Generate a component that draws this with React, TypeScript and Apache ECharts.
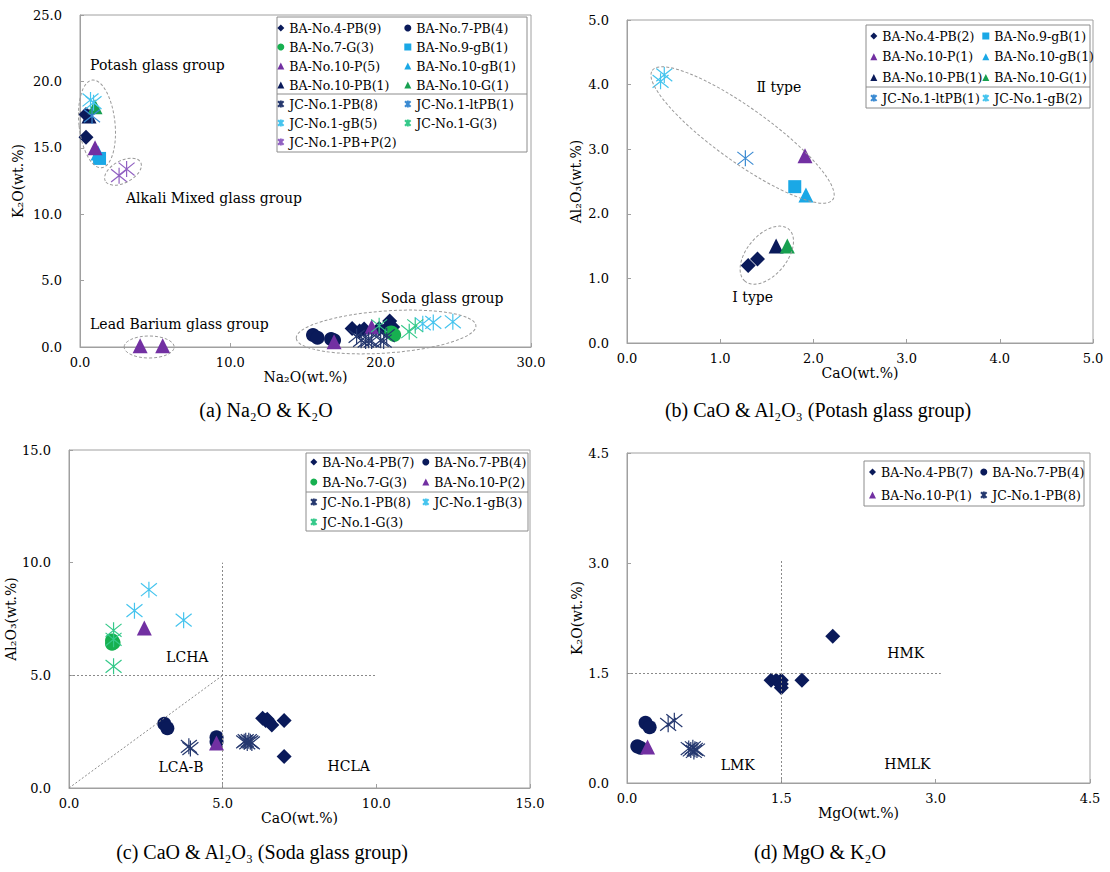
import React, { useEffect, useRef } from "react";
import * as echarts from "echarts";

// ---------- axis ticks ----------
const A_X_TICKS = [0, 10, 20, 30];
const A_Y_TICKS = [0, 5, 10, 15, 20, 25];
const B_X_TICKS = [0, 1, 2, 3, 4, 5];
const B_Y_TICKS = [0, 1, 2, 3, 4, 5];
const C_X_TICKS = [0, 5, 10, 15];
const C_Y_TICKS = [0, 5, 10, 15];
const D_X_TICKS = [0, 1.5, 3, 4.5];
const D_Y_TICKS = [0, 1.5, 3, 4.5];

// ---------- (a) Na2O & K2O ----------
const a_BA4PB = [[0.4, 17.5], [0.4, 15.8], [18.1, 1.4], [18.6, 1.2], [18.9, 1.35], [19.9, 1.4], [20.3, 1.3], [20.6, 1.95], [20.8, 1.5]];
const a_BA7PB = [[15.5, 0.9], [15.8, 0.7], [16.7, 0.6], [16.9, 0.5]];
const a_BA7G = [[20.7, 1.1], [20.8, 1.0], [20.9, 0.9]];
const a_BA9gB = [[1.3, 14.2]];
const a_BA10P = [[1.0, 15.0], [4.0, 0.1], [5.5, 0.1], [16.9, 0.4], [19.4, 1.5]];
const a_BA10gB = [[1.2, 14.6]];
const a_BA10PB = [[0.6, 17.4]];
const a_BA10G = [[1.0, 18.1]];
const a_JC1PB = [[18.4, 0.8], [18.7, 0.5], [19.0, 0.45], [19.2, 0.5], [19.4, 0.45], [20.0, 0.5], [20.2, 0.45], [20.4, 0.85]];
const a_JC1ltPB = [[0.8, 17.4]];
const a_JC1gB = [[0.7, 18.6], [0.9, 18.4], [22.8, 1.75], [23.5, 1.85], [24.8, 1.9]];
const a_JC1G = [[19.9, 1.6], [21.9, 1.15], [22.3, 1.6]];
const a_JC1PBP = [[2.6, 12.9], [3.1, 13.4]];

// ---------- (b) CaO & Al2O3 (Potash) ----------
const b_BA4PB = [[1.3, 1.2], [1.4, 1.3]];
const b_BA9gB = [[1.8, 2.42]];
const b_BA10P = [[1.91, 2.9]];
const b_BA10gB = [[1.92, 2.29]];
const b_BA10PB = [[1.6, 1.5]];
const b_BA10G = [[1.72, 1.5]];
const b_JC1ltPB = [[1.27, 2.86]];
const b_JC1gB = [[0.36, 4.05], [0.4, 4.15]];

// ---------- (c) CaO & Al2O3 (Soda) ----------
const c_BA4PB = [[6.3, 3.1], [6.4, 3.0], [6.45, 3.05], [6.5, 2.95], [6.6, 2.8], [7.0, 3.0], [7.0, 1.4]];
const c_BA7PB = [[3.1, 2.85], [3.2, 2.65], [4.8, 2.25], [4.8, 2.05]];
const c_BA7G = [[1.4, 6.55], [1.45, 6.45], [1.4, 6.4]];
const c_BA10P = [[2.45, 7.1], [4.8, 2.0]];
const c_JC1PB = [[3.9, 1.85], [3.95, 1.75], [5.7, 2.05], [5.75, 2.1], [5.8, 2.0], [5.85, 2.1], [5.9, 2.05], [5.95, 2.0]];
const c_JC1gB = [[2.13, 7.87], [2.6, 8.8], [3.73, 7.45]];
const c_JC1G = [[1.45, 7.0], [1.45, 6.6], [1.45, 5.4]];

// ---------- (d) MgO & K2O ----------
const d_BA4PB = [[1.4, 1.4], [1.45, 1.4], [1.5, 1.4], [1.5, 1.35], [1.5, 1.3], [1.7, 1.4], [2.0, 2.0]];
const d_BA7PB = [[0.18, 0.82], [0.22, 0.76], [0.1, 0.5], [0.13, 0.48]];
const d_BA10P = [[0.2, 0.49]];
const d_JC1PB = [[0.4, 0.8], [0.46, 0.85], [0.6, 0.47], [0.62, 0.45], [0.64, 0.48], [0.65, 0.43], [0.66, 0.46], [0.68, 0.45]];

// ---------- guide lines ----------
const C_GUIDES = [[[0, 5], [10, 5]], [[5, 0], [5, 10]], [[0, 0], [5, 5]]];
const D_GUIDES = [[[0, 1.5], [3.05, 1.5]], [[1.5, 0], [1.5, 3.05]]];

// ---------- annotations (data coords) ----------
const NOTES = [
  { g: 0, text: "Potash glass group", at: [0.67, 21.2] },
  { g: 0, text: "Alkali Mixed glass group", at: [3.06, 11.2] },
  { g: 0, text: "Lead Barium glass group", at: [0.67, 1.73] },
  { g: 0, text: "Soda glass group", at: [20.03, 3.69] },
  { g: 1, text: "Ⅱ type", at: [1.39, 3.97] },
  { g: 1, text: "Ⅰ type", at: [1.13, 0.71] },
  { g: 2, text: "LCHA", at: [3.16, 5.82] },
  { g: 2, text: "LCA-B", at: [2.91, 0.92] },
  { g: 2, text: "HCLA", at: [8.41, 0.99] },
  { g: 3, text: "HMK", at: [2.53, 1.77] },
  { g: 3, text: "LMK", at: [0.91, 0.25] },
  { g: 3, text: "HMLK", at: [2.5, 0.26] },
];
const ELLIPSES = [
  { g: 0, at: [1.13, 16.8], rx: 18, ry: 44, rot: 6 },
  { g: 0, at: [2.86, 13.2], rx: 20, ry: 11, rot: 28 },
  { g: 0, at: [4.6, 0.0], rx: 25, ry: 11, rot: 0 },
  { g: 0, at: [20.36, 1.13], rx: 90, ry: 21, rot: 4 },
  { g: 1, at: [1.24, 3.22], rx: 111, ry: 27, rot: -35.6 },
  { g: 1, at: [1.5, 1.36], rx: 34, ry: 20, rot: 50 },
];

const CAPTIONS = [
  { text: "(a) Na₂O & K₂O", x: 266, y: 410 },
  { text: "(b) CaO & Al₂O₃ (Potash glass group)", x: 818, y: 410 },
  { text: "(c) CaO & Al₂O₃ (Soda glass group)", x: 262, y: 852 },
  { text: "(d) MgO & K₂O", x: 820, y: 852 },
];

// ---------- styles ----------
const NAVY = "#0a1a5a";
const GREEN = "#17b050";
const GREEN_T = "#17a050";
const LBLUE = "#1aa8e6";
const PURPLE = "#7230a2";
const JC_PB = "#25386f";
const JC_LTPB = "#3a8ad2";
const JC_GB = "#45c4ee";
const JC_G = "#35c98a";
const JC_PBP = "#9161c2";
const ASTER = "path://M5,0L5,10M1,1L9,9M9,1L1,9";
const SERIF = "'DejaVu Serif', 'Noto Sans CJK KR', serif";
const AXIS_GREY = "#a0a0a0";

type Kind = "diamond" | "circle" | "triangle" | "rect" | "aster";

function mk(name: string, g: number, kind: Kind, color: string, data: number[][]) {
  const size = kind === "aster" ? 16 : kind === "rect" ? 13 : kind === "circle" ? 14 : 15;
  const itemStyle =
    kind === "aster"
      ? { color: "rgba(0,0,0,0)", borderColor: color, borderWidth: 1.2, opacity: 1 }
      : { color, borderWidth: 0, opacity: 1 };
  return {
    type: "scatter",
    name,
    xAxisIndex: g,
    yAxisIndex: g,
    symbol: kind === "aster" ? ASTER : kind,
    symbolSize: size,
    itemStyle,
    data,
    z: 3,
  };
}

function guideSeries(g: number, lines: number[][][]) {
  return {
    type: "scatter",
    name: "guide" + g,
    xAxisIndex: g,
    yAxisIndex: g,
    data: [],
    silent: true,
    markLine: {
      silent: true,
      symbol: "none",
      animation: false,
      label: { show: false },
      lineStyle: { type: [2, 2], color: "#8a8a8a", width: 1 },
      data: lines.map((l) => [{ coord: l[0] }, { coord: l[1] }]),
    },
  };
}

const GRIDS = [
  { left: 80, top: 15, width: 451, height: 332 },
  { left: 627, top: 20, width: 466, height: 323 },
  { left: 69, top: 450, width: 461, height: 338 },
  { left: 627, top: 453, width: 463, height: 330 },
];
const X_TICKS = [A_X_TICKS, B_X_TICKS, C_X_TICKS, D_X_TICKS];
const Y_TICKS = [A_Y_TICKS, B_Y_TICKS, C_Y_TICKS, D_Y_TICKS];
const X_NAMES = ["Na₂O(wt.%)", "CaO(wt.%)", "CaO(wt.%)", "MgO(wt.%)"];
const Y_NAMES = ["K₂O(wt.%)", "Al₂O₃(wt.%)", "Al₂O₃(wt.%)", "K₂O(wt.%)"];
const Y_NAME_GAPS = [55, 44, 45, 43];

function axisBase(g: number, ticks: number[], name: string, isX: boolean) {
  return {
    gridIndex: g,
    type: "value",
    min: ticks[0],
    max: ticks[ticks.length - 1],
    interval: ticks[1] - ticks[0],
    name,
    nameLocation: "middle",
    nameGap: isX ? 22 : Y_NAME_GAPS[g],
    nameTextStyle: { fontFamily: SERIF, fontSize: 14, color: "#000" },
    axisLine: { show: true, lineStyle: { color: AXIS_GREY, width: 1 } },
    axisTick: { show: true, inside: true, length: 4, lineStyle: { color: AXIS_GREY } },
    axisLabel: {
      margin: isX ? 9 : 18,
      fontFamily: SERIF,
      fontSize: 13,
      color: "#000",
      formatter: (v: number) => v.toFixed(1),
    },
    splitLine: { show: false },
  };
}

function legend(left: number, top: number, gap: number, names: string[]) {
  return {
    orient: "vertical",
    left,
    top,
    padding: 0,
    itemGap: gap,
    itemWidth: 7,
    itemHeight: 7,
    selectedMode: false,
    data: names,
    textStyle: { fontFamily: SERIF, fontSize: 12.5, color: "#000", lineHeight: 16 },
  };
}

const LEGEND_BOXES = [
  { x: 277, y: 17, w: 250, h: 135, div: 94 },
  { x: 866, y: 25, w: 224, h: 83, div: 87 },
  { x: 306, y: 453, w: 222, h: 78, div: 492 },
  { x: 864, y: 461, w: 220, h: 45, div: 0 },
];

export default function App() {
  const ref = useRef<HTMLDivElement>(null);
  useEffect(() => {
    if (!ref.current) return;
    const chart = echarts.init(ref.current, null, { renderer: "svg" });
    const series: any[] = [
      mk("BA-No.4-PB(9)", 0, "diamond", NAVY, a_BA4PB),
      mk("BA-No.7-PB(4)", 0, "circle", NAVY, a_BA7PB),
      mk("BA-No.7-G(3)", 0, "circle", GREEN, a_BA7G),
      mk("BA-No.9-gB(1)", 0, "rect", LBLUE, a_BA9gB),
      mk("BA-No.10-gB(1)", 0, "triangle", LBLUE, a_BA10gB),
      mk("BA-No.10-P(5)", 0, "triangle", PURPLE, a_BA10P),
      mk("BA-No.10-PB(1)", 0, "triangle", NAVY, a_BA10PB),
      mk("BA-No.10-G(1)", 0, "triangle", GREEN_T, a_BA10G),
      mk("JC-No.1-PB(8)", 0, "aster", JC_PB, a_JC1PB),
      mk("JC-No.1-ltPB(1)", 0, "aster", JC_LTPB, a_JC1ltPB),
      mk("JC-No.1-gB(5)", 0, "aster", JC_GB, a_JC1gB),
      mk("JC-No.1-G(3)", 0, "aster", JC_G, a_JC1G),
      mk("JC-No.1-PB+P(2)", 0, "aster", JC_PBP, a_JC1PBP),

      mk("BA-No.4-PB(2)", 1, "diamond", NAVY, b_BA4PB),
      mk("BA-No.9-gB(1)", 1, "rect", LBLUE, b_BA9gB),
      mk("BA-No.10-P(1)", 1, "triangle", PURPLE, b_BA10P),
      mk("BA-No.10-gB(1)", 1, "triangle", LBLUE, b_BA10gB),
      mk("BA-No.10-PB(1)", 1, "triangle", NAVY, b_BA10PB),
      mk("BA-No.10-G(1)", 1, "triangle", GREEN_T, b_BA10G),
      mk("JC-No.1-ltPB(1)", 1, "aster", JC_LTPB, b_JC1ltPB),
      mk("JC-No.1-gB(2)", 1, "aster", JC_GB, b_JC1gB),

      guideSeries(2, C_GUIDES),
      mk("BA-No.4-PB(7)", 2, "diamond", NAVY, c_BA4PB),
      mk("BA-No.7-PB(4)", 2, "circle", NAVY, c_BA7PB),
      mk("BA-No.7-G(3)", 2, "circle", GREEN, c_BA7G),
      mk("BA-No.10-P(2)", 2, "triangle", PURPLE, c_BA10P),
      mk("JC-No.1-PB(8)", 2, "aster", JC_PB, c_JC1PB),
      mk("JC-No.1-gB(3)", 2, "aster", JC_GB, c_JC1gB),
      mk("JC-No.1-G(3)", 2, "aster", JC_G, c_JC1G),

      guideSeries(3, D_GUIDES),
      mk("BA-No.4-PB(7)", 3, "diamond", NAVY, d_BA4PB),
      mk("BA-No.7-PB(4)", 3, "circle", NAVY, d_BA7PB),
      mk("BA-No.10-P(1)", 3, "triangle", PURPLE, d_BA10P),
      mk("JC-No.1-PB(8)", 3, "aster", JC_PB, d_JC1PB),
    ];

    const option: any = {
      animation: false,
      backgroundColor: "#fff",
      grid: GRIDS.map((g) => ({ ...g, show: true, borderColor: AXIS_GREY, borderWidth: 1, backgroundColor: "transparent" })),
      xAxis: X_TICKS.map((t, i) => axisBase(i, t, X_NAMES[i], true)),
      yAxis: Y_TICKS.map((t, i) => axisBase(i, t, Y_NAMES[i], false)),
      legend: [
        legend(277, 20, 3, ["BA-No.4-PB(9)", "BA-No.7-G(3)", "BA-No.10-P(5)", "BA-No.10-PB(1)", "JC-No.1-PB(8)", "JC-No.1-gB(5)", "JC-No.1-PB+P(2)"]),
        legend(404, 20, 3, ["BA-No.7-PB(4)", "BA-No.9-gB(1)", "BA-No.10-gB(1)", "BA-No.10-G(1)", "JC-No.1-ltPB(1)", "JC-No.1-G(3)"]),
        legend(870, 28, 4.7, ["BA-No.4-PB(2)", "BA-No.10-P(1)", "BA-No.10-PB(1)", "JC-No.1-ltPB(1)"]),
        legend(982, 28, 4.7, ["BA-No.9-gB(1)", "BA-No.10-gB(1)", "BA-No.10-G(1)", "JC-No.1-gB(2)"]),
        legend(310, 454, 4, ["BA-No.4-PB(7)", "BA-No.7-G(3)", "JC-No.1-PB(8)", "JC-No.1-G(3)"]),
        legend(422, 454, 4, ["BA-No.7-PB(4)", "BA-No.10-P(2)", "JC-No.1-gB(3)"]),
        legend(869, 464, 7, ["BA-No.4-PB(7)", "BA-No.10-P(1)"]),
        legend(980, 464, 7, ["BA-No.7-PB(4)", "JC-No.1-PB(8)"]),
      ],
      series,
    };
    chart.setOption(option);

    const graphic: any[] = [];
    LEGEND_BOXES.forEach((b) => {
      graphic.push({
        type: "rect",
        silent: true,
        shape: { x: b.x, y: b.y, width: b.w, height: b.h },
        style: { fill: "none", stroke: "#8c8c8c", lineWidth: 1 },
      });
      if (b.div) {
        graphic.push({
          type: "line",
          silent: true,
          shape: { x1: b.x, y1: b.div, x2: b.x + b.w, y2: b.div },
          style: { stroke: "#8c8c8c", lineWidth: 1 },
        });
      }
    });
    ELLIPSES.forEach((e) => {
      const p = chart.convertToPixel({ gridIndex: e.g } as any, e.at) as number[];
      graphic.push({
        type: "ellipse",
        silent: true,
        x: p[0],
        y: p[1],
        rotation: (e.rot * Math.PI) / 180,
        shape: { cx: 0, cy: 0, rx: e.rx, ry: e.ry },
        style: { fill: "none", stroke: "#9a9a9a", lineWidth: 1, lineDash: [3, 2] },
        z: 10,
      });
    });
    NOTES.forEach((n) => {
      const p = chart.convertToPixel({ gridIndex: n.g } as any, n.at) as number[];
      graphic.push({
        type: "text",
        silent: true,
        x: p[0],
        y: p[1],
        style: {
          text: n.text,
          fill: "#000",
          font: "14px " + SERIF,
          align: "left",
          textAlign: "left",
          verticalAlign: "middle",
          textVerticalAlign: "middle",
        },
        z: 10,
      });
    });
    CAPTIONS.forEach((c) => {
      graphic.push({
        type: "text",
        silent: true,
        x: c.x,
        y: c.y,
        style: {
          text: c.text,
          fill: "#000",
          font: "20px 'Liberation Serif', 'DejaVu Serif', serif",
          align: "center",
          textAlign: "center",
          verticalAlign: "middle",
          textVerticalAlign: "middle",
        },
      });
    });
    chart.setOption({ graphic });

    return () => chart.dispose();
  }, []);
  return <div ref={ref} style={{ position: "absolute", left: 0, top: 0, width: 1110, height: 872 }} />;
}
